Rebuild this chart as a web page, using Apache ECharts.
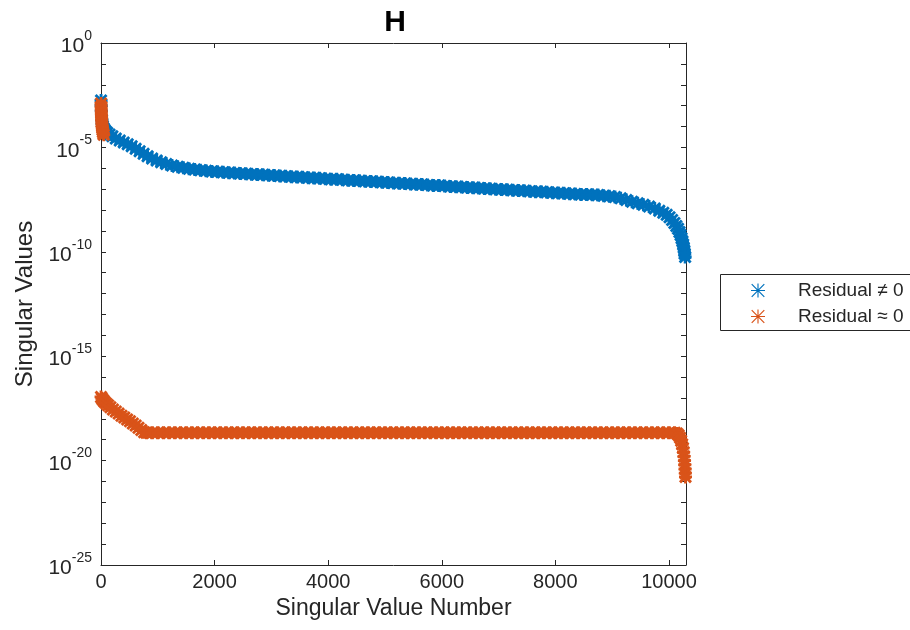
<!DOCTYPE html>
<html>
<head>
<meta charset="utf-8">
<script src="https://cdn.jsdelivr.net/npm/echarts@6/dist/echarts.min.js"></script>
<style>
  html, body { margin: 0; padding: 0; background: #fff; }
  #chart { width: 910px; height: 630px; }
</style>
</head>
<body>
<div id="chart"></div>
<script>
// Singular values of H, split by residual. Values are stored as log10(sigma)
// and plotted on a decade axis labelled 10^k.
const seriesNames = ['Residual \u2260 0', 'Residual \u2248 0'];

const blueIdx = [1,3,6,10,15,22,32,45,60,80,
  110,150,200,260,330,400,470,540,610,680,750,820,
  900,980,1060,
  1150,1250,1350,1450,1550,1650,1750,1850,1950,2050,2150,2250,2350,2450,2550,2650,2750,2850,2950,3050,
  3150,3250,3350,3450,3550,3650,3750,3850,3950,4050,4150,4250,4350,4450,4550,4650,4750,4850,4950,5050,
  5150,5250,5350,5450,5550,5650,5750,5850,5950,6050,6150,6250,6350,6450,6550,6650,6750,6850,6950,7050,
  7150,7250,7350,7450,7550,7650,7750,7850,7950,8050,8150,8250,8350,8450,8550,8650,
  8750,8850,8950,9050,9150,9250,9350,9450,9550,9650,9750,
  9830,9900,9960,10010,10055,10095,10130,10160,10185,10205,10222,10237,10250,10261,10270,10278,10285];
const blueLog10 = [-2.75,-3.0,-3.25,-3.5,-3.7,-3.85,-3.98,-4.08,-4.15,-4.22,
  -4.3,-4.38,-4.47,-4.57,-4.67,-4.76,-4.85,-4.95,-5.06,-5.18,-5.3,-5.42,
  -5.53,-5.63,-5.71,
  -5.79,-5.87,-5.93,-5.98,-6.02,-6.06,-6.09,-6.12,-6.15,-6.17,-6.19,-6.21,-6.23,-6.25,-6.26,-6.28,-6.3,-6.31,-6.33,-6.35,
  -6.37,-6.38,-6.4,-6.42,-6.43,-6.45,-6.47,-6.48,-6.5,-6.52,-6.53,-6.55,-6.57,-6.58,-6.6,-6.62,-6.63,-6.65,-6.67,-6.68,
  -6.7,-6.72,-6.73,-6.75,-6.77,-6.78,-6.8,-6.82,-6.83,-6.85,-6.87,-6.88,-6.9,-6.92,-6.93,-6.95,-6.97,-6.98,-7.0,-7.02,
  -7.03,-7.05,-7.07,-7.08,-7.1,-7.12,-7.13,-7.15,-7.17,-7.18,-7.2,-7.22,-7.23,-7.25,-7.26,-7.27,
  -7.28,-7.31,-7.34,-7.38,-7.44,-7.52,-7.6,-7.68,-7.75,-7.83,-7.93,
  -8.03,-8.13,-8.23,-8.35,-8.48,-8.62,-8.76,-8.9,-9.05,-9.2,-9.35,-9.5,-9.65,-9.8,-9.95,-10.1,-10.25];

// Large leading singular values with near-zero residual
const orangeUpperIdx = [1,2,4,6,8,11,14,18,22,27,33,40,48];
const orangeUpperLog10 = [-2.9,-3.05,-3.2,-3.35,-3.5,-3.65,-3.8,-3.95,-4.05,-4.15,-4.25,-4.33,-4.4];

// Tiny singular values with near-zero residual
const orangeLowerIdx = [1,15,35,60,90,125,165,210,260,310,360,410,460,510,560,610,660,710,760,800,
  900,1000,1100,1200,1300,1400,1500,1600,1700,1800,1900,2000,2100,2200,2300,2400,2500,2600,2700,2800,2900,
  3000,3100,3200,3300,3400,3500,3600,3700,3800,3900,4000,4100,4200,4300,4400,4500,4600,4700,4800,4900,
  5000,5100,5200,5300,5400,5500,5600,5700,5800,5900,6000,6100,6200,6300,6400,6500,6600,6700,6800,6900,
  7000,7100,7200,7300,7400,7500,7600,7700,7800,7900,8000,8100,8200,8300,8400,8500,8600,8700,8800,8900,
  9000,9100,9200,9300,9400,9500,9600,9700,9800,9900,10000,10100,
  10140,10170,10195,10215,10232,10246,10257,10266,10273,10279,10284,10288,10291];
const orangeLowerLog10 = [-16.95,-17.02,-17.1,-17.18,-17.26,-17.35,-17.45,-17.55,-17.65,-17.75,-17.85,-17.94,-18.03,-18.12,-18.22,-18.32,-18.43,-18.54,-18.64,-18.67,
  -18.67,-18.67,-18.67,-18.67,-18.67,-18.67,-18.67,-18.67,-18.67,-18.67,-18.67,-18.67,-18.67,-18.67,-18.67,-18.67,-18.67,-18.67,-18.67,-18.67,-18.67,
  -18.67,-18.67,-18.67,-18.67,-18.67,-18.67,-18.67,-18.67,-18.67,-18.67,-18.67,-18.67,-18.67,-18.67,-18.67,-18.67,-18.67,-18.67,-18.67,-18.67,
  -18.67,-18.67,-18.67,-18.67,-18.67,-18.67,-18.67,-18.67,-18.67,-18.67,-18.67,-18.67,-18.67,-18.67,-18.67,-18.67,-18.67,-18.67,-18.67,-18.67,
  -18.67,-18.67,-18.67,-18.67,-18.67,-18.67,-18.67,-18.67,-18.67,-18.67,-18.67,-18.67,-18.67,-18.67,-18.67,-18.67,-18.67,-18.67,-18.67,-18.67,
  -18.67,-18.67,-18.67,-18.67,-18.67,-18.67,-18.67,-18.67,-18.67,-18.67,-18.67,-18.67,
  -18.7,-18.78,-18.9,-19.05,-19.22,-19.4,-19.6,-19.8,-20.0,-20.2,-20.4,-20.6,-20.78];

const xRange = [0, 10300];
const xTickStep = 2000;
const yRangeExp = [-25, 0];
const yTickStepExp = 5;

const COLOR_BLUE = '#0072BD';
const COLOR_ORANGE = '#D95319';
const AXIS_COLOR = '#262626';
const FONT = '"Liberation Sans", Arial, Helvetica, sans-serif';

// eight-armed asterisk markers: heavier arms for the dense plot, thin for the key
const STAR = 'path://M7.8 0h4.4v20h-4.4z M0 7.8h20v4.4h-20z M0 3.1L3.1 0L20 16.9L16.9 20z M16.9 0L20 3.1L3.1 20L0 16.9z';
const STAR_THIN = 'path://M9.2 0h1.6v20h-1.6z M0 9.2h20v1.6h-20z M0.4 1.6L1.6 0.4L19.6 18.4L18.4 19.6z M18.4 0.4L19.6 1.6L1.6 19.6L0.4 18.4z';

function toPoints(idx, lg) {
  return idx.map((x, i) => [x, lg[i]]);
}

const blueData = toPoints(blueIdx, blueLog10);
const orangeData = toPoints(orangeUpperIdx, orangeUpperLog10).concat(toPoints(orangeLowerIdx, orangeLowerLog10));

const chart = echarts.init(document.getElementById('chart'), null, { renderer: 'canvas' });

const tickStyle = { inside: true, length: 5, lineStyle: { color: AXIS_COLOR, width: 1 } };
const axisLineStyle = { show: true, onZero: false, lineStyle: { color: AXIS_COLOR, width: 1 } };

const yCommon = {
  type: 'value',
  min: yRangeExp[0],
  max: yRangeExp[1],
  interval: yTickStepExp,
  splitLine: { show: false },
  axisLine: axisLineStyle,
  axisTick: tickStyle,
  minorTick: { show: true, splitNumber: 5, length: 5, lineStyle: { color: AXIS_COLOR, width: 1 } },
  minorSplitLine: { show: false }
};

const option = {
  animation: false,
  backgroundColor: '#fff',
  textStyle: { fontFamily: FONT },
  title: {
    text: 'H',
    left: 390,
    top: 3,
    textAlign: 'center',
    textStyle: { fontFamily: FONT, fontSize: 30, fontWeight: 'bold', color: '#000' }
  },
  grid: { left: 101, top: 43, width: 585, height: 522, containLabel: false },
  xAxis: [
    {
      type: 'value',
      position: 'bottom',
      min: xRange[0],
      max: xRange[1],
      interval: xTickStep,
      name: 'Singular Value Number',
      nameLocation: 'middle',
      nameGap: 32,
      nameTextStyle: { fontFamily: FONT, fontSize: 23, color: AXIS_COLOR },
      splitLine: { show: false },
      axisLine: axisLineStyle,
      axisTick: tickStyle,
      axisLabel: {
        fontFamily: FONT, fontSize: 20, color: AXIS_COLOR, margin: 7,
        showMaxLabel: false,
        formatter: v => (v % xTickStep === 0 ? String(v) : '')
      }
    },
    {
      type: 'value',
      position: 'top',
      min: xRange[0],
      max: xRange[1],
      interval: xTickStep,
      splitLine: { show: false },
      axisLine: axisLineStyle,
      axisTick: tickStyle,
      axisLabel: { show: false }
    }
  ],
  yAxis: [
    Object.assign({}, yCommon, {
      position: 'left',
      name: 'Singular Values',
      nameLocation: 'middle',
      nameGap: 64,
      nameTextStyle: { fontFamily: FONT, fontSize: 24, color: AXIS_COLOR },
      axisLabel: {
        margin: 9,
        color: AXIS_COLOR,
        formatter: v => '{b|10}{s|' + Math.round(v) + '}',
        rich: {
          b: { fontFamily: FONT, fontSize: 21, color: AXIS_COLOR, lineHeight: 28, verticalAlign: 'bottom' },
          s: { fontFamily: FONT, fontSize: 14, color: AXIS_COLOR, lineHeight: 28, verticalAlign: 'top' }
        }
      }
    }),
    Object.assign({}, yCommon, {
      position: 'right',
      axisLabel: { show: false }
    })
  ],
  legend: {
    orient: 'vertical',
    left: 746,
    top: 276,
    itemWidth: 14,
    itemHeight: 14,
    itemGap: 7,
    z: 5,
    data: seriesNames.map(n => ({ name: n, icon: STAR_THIN })),
    textStyle: { fontFamily: FONT, fontSize: 19, color: AXIS_COLOR, padding: [0, 0, 0, 28] }
  },
  graphic: [
    {
      type: 'rect',
      z: 1,
      shape: { x: 720.5, y: 274.5, width: 200, height: 56 },
      style: { fill: '#fff', stroke: AXIS_COLOR, lineWidth: 1 }
    }
  ],
  series: [
    {
      name: seriesNames[0],
      type: 'scatter',
      xAxisIndex: 0,
      yAxisIndex: 0,
      symbol: STAR,
      symbolSize: 13,
      itemStyle: { color: COLOR_BLUE, opacity: 1 },
      data: blueData
    },
    {
      name: seriesNames[1],
      type: 'scatter',
      xAxisIndex: 0,
      yAxisIndex: 0,
      symbol: STAR,
      symbolSize: 13,
      itemStyle: { color: COLOR_ORANGE, opacity: 1 },
      data: orangeData
    }
  ]
};

chart.setOption(option);
</script>
</body>
</html>
